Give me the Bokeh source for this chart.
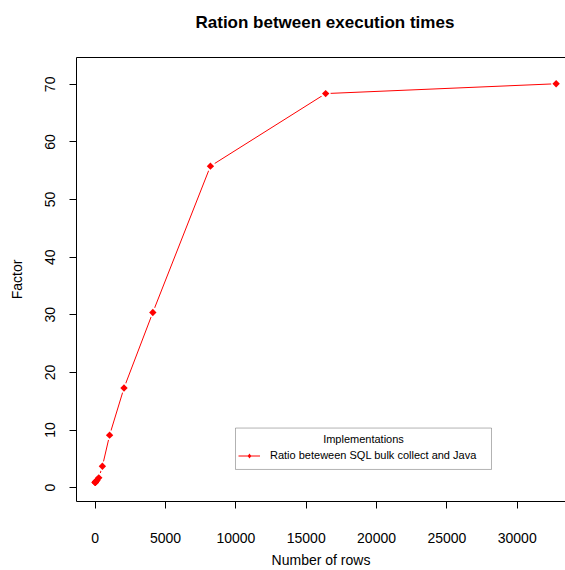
import numpy as np
from bokeh.plotting import figure
from bokeh.models import (Range1d, LinearAxis, FixedTicker, Legend, LegendItem,
                          Label, BoxAnnotation)
from bokeh.embed import file_html
from bokeh.resources import INLINE

# ---- data ----
rows = [1, 2, 4, 8, 16, 32, 64, 128, 256, 512, 1024, 2048, 4096, 8192, 16384, 32768]
factor = [0.9, 0.9, 0.9, 0.9, 1.0, 1.0, 1.1, 1.3, 1.7, 3.7, 9.1, 17.3, 30.4, 55.8, 68.4, 70.1]
x_ticks = [0, 5000, 10000, 15000, 20000, 25000, 30000]
y_ticks = [0, 10, 20, 30, 40, 50, 60, 70]
series_label = "Ratio beteween SQL bulk collect and Java"
legend_title = "Implementations"
title_text = "Ration between execution times"
x_label = "Number of rows"
y_label = "Factor"

FONT = "Liberation Sans"

p = figure(width=565, height=570, output_backend="svg", toolbar_location=None,
           x_range=Range1d(-1329, 33433), y_range=Range1d(-2.41, 74.66),
           min_border_left=76, min_border_right=0, min_border_top=57, min_border_bottom=66,
           x_axis_label=x_label, y_axis_label=y_label)
p.grid.visible = False
p.outline_line_color = None
p.background_fill_color = "white"
p.border_fill_color = "white"

p.title.text = title_text
p.title.align = "left"
p.title.offset = 119
p.title.standoff = 0
p.title.text_font = FONT
p.title.text_font_size = "17px"
p.title.text_font_style = "bold"
p.title.text_color = "black"

for ax in (p.xaxis[0], p.yaxis[0]):
    ax.axis_line_color = "black"
    ax.axis_line_width = 1
    ax.major_tick_line_color = "black"
    ax.major_tick_out = 7
    ax.major_tick_in = 0
    ax.minor_tick_line_color = None
    ax.major_label_text_font = FONT
    ax.major_label_text_font_size = "14px"
    ax.major_label_text_color = "black"
    ax.axis_label_text_font = FONT
    ax.axis_label_text_font_size = "14px"
    ax.axis_label_text_font_style = "normal"
    ax.axis_label_text_color = "black"

p.xaxis[0].ticker = FixedTicker(ticks=x_ticks)
p.yaxis[0].ticker = FixedTicker(ticks=y_ticks)
p.xaxis[0].major_label_standoff = 24
p.xaxis[0].axis_label_standoff = 6
p.yaxis[0].major_label_orientation = "vertical"
p.yaxis[0].major_label_standoff = 14
p.yaxis[0].axis_label_standoff = 18

# top edge of the box; its blank label spaces the title upward
top = LinearAxis(ticker=FixedTicker(ticks=[]), axis_line_color="black",
                 major_tick_line_color=None, minor_tick_line_color=None,
                 major_label_standoff=0, major_label_text_font_size="0px",
                 axis_label=" ", axis_label_standoff=7,
                 axis_label_text_font=FONT, axis_label_text_font_size="14px")
p.add_layout(top, "above")

# ---- series ----
line_r = p.line(rows, factor, line_color="red", line_width=1)
p.scatter(rows, factor, marker="circle", size=10, fill_color="white", line_color=None)
key = p.scatter(rows, factor, marker="diamond", size=5, fill_color="red", line_color=None)
pts = p.scatter(rows, factor, marker="square", angle=np.pi / 4, size=5.2,
                fill_color="red", line_color=None)

# ---- legend ----
box = BoxAnnotation(left=9974, right=28172, top=10.34, bottom=3.155,
                    fill_alpha=0, line_color="black", line_width=1)
p.add_layout(box)
p.add_layout(Label(x=19073, y=8.5, text=legend_title, text_align="center",
                   text_baseline="middle", text_font=FONT, text_font_size="11px",
                   text_color="black"))
legend = Legend(items=[LegendItem(label=series_label, renderers=[line_r, key])],
                location=(162, 39.5), padding=0, margin=0, border_line_color=None,
                background_fill_alpha=0, glyph_width=22, glyph_height=13,
                label_height=13, label_standoff=10, label_text_font=FONT,
                label_text_font_size="11px", label_text_color="black")
p.add_layout(legend, "center")

open("out.html", "w").write(file_html(p, INLINE))
